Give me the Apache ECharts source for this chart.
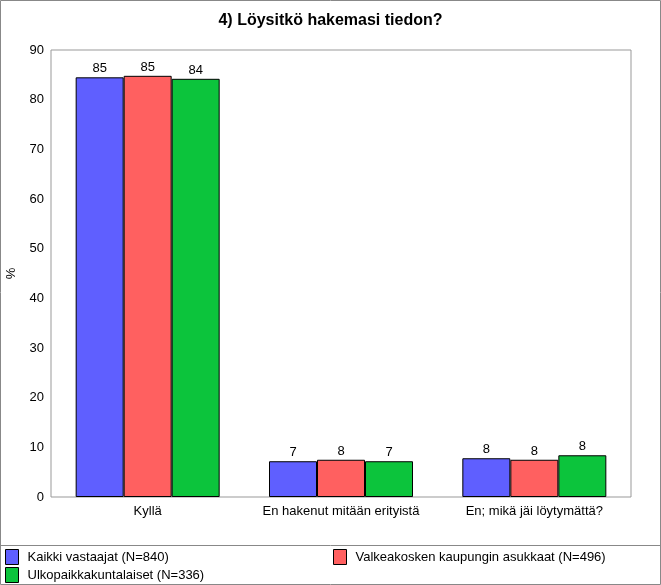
<!DOCTYPE html>
<html><head><meta charset="utf-8">
<script src="https://cdn.jsdelivr.net/npm/echarts@6/dist/echarts.min.js"></script>
<style>html,body{margin:0;padding:0;background:#fff}#c{width:661px;height:585px}</style>
</head><body><div id="c"></div>
<script>
var categories = ['Kyllä', 'En hakenut mitään erityistä', 'En; mikä jäi löytymättä?'];
var seriesNames = ['Kaikki vastaajat (N=840)', 'Valkeakosken kaupungin asukkaat (N=496)', 'Ulkopaikkakuntalaiset (N=336)'];
var allValues = [84.5, 7.2, 7.8];
var cityValues = [84.8, 7.5, 7.5];
var outsideValues = [84.2, 7.2, 8.4];
var colors = ['#5f5fff', '#ff6060', '#0cc43c'];
var yTicks = {min: 0, max: 90, interval: 10};

var font = 'Liberation Sans, Arial, sans-serif';
function mk(name, data, color) {
  return {
    name: name, type: 'bar', data: data, barWidth: 48, barGap: '0%',
    itemStyle: {color: color, borderColor: '#000', borderWidth: 1},
    label: {show: true, position: 'top', distance: 2, color: '#000', fontSize: 13, fontFamily: font,
      formatter: function (p) { return Math.round(p.value); }},
    emphasis: {disabled: true}
  };
}
var chart = echarts.init(document.getElementById('c'), null, {renderer: 'canvas'});
chart.setOption({
  animation: false,
  backgroundColor: '#fff',
  title: {text: '4) Löysitkö hakemasi tiedon?', left: 'center', top: 8,
    textStyle: {fontFamily: font, fontSize: 16, fontWeight: 'bold', color: '#000'}},
  grid: {left: 51, right: 30, top: 50, bottom: 88, show: true, borderColor: '#999', borderWidth: 1,
    backgroundColor: 'transparent', containLabel: false, outerBoundsMode: 'none'},
  xAxis: {type: 'category', data: categories,
    axisLine: {show: false}, axisTick: {show: false},
    axisLabel: {color: '#000', fontSize: 13, fontFamily: font, margin: 8, interval: 0, hideOverlap: false}},
  yAxis: {type: 'value', min: yTicks.min, max: yTicks.max, interval: yTicks.interval,
    name: '%', nameLocation: 'middle', nameGap: 33,
    nameTextStyle: {color: '#000', fontSize: 13, fontFamily: font},
    axisLine: {show: false}, axisTick: {show: false}, splitLine: {show: false},
    axisLabel: {color: '#000', fontSize: 13, fontFamily: font, margin: 7}},
  legend: [
    {data: [seriesNames[0], seriesNames[2]], orient: 'vertical', left: 5, top: 549, itemGap: 2,
      itemWidth: 13, itemHeight: 15, icon: 'rect', selectedMode: false,
      itemStyle: {borderColor: '#000', borderWidth: 1},
      textStyle: {color: '#000', fontSize: 13, fontFamily: font, padding: [0, 0, 0, 4]}, padding: 0},
    {data: [seriesNames[1]], orient: 'vertical', left: 333, top: 549,
      itemWidth: 13, itemHeight: 15, icon: 'rect', selectedMode: false,
      itemStyle: {borderColor: '#000', borderWidth: 1},
      textStyle: {color: '#000', fontSize: 13, fontFamily: font, padding: [0, 0, 0, 4]}, padding: 0}
  ],
  graphic: [
    {type: 'rect', shape: {x: 0.5, y: 0.5, width: 660, height: 584}, style: {fill: 'none', stroke: '#888', lineWidth: 1}, silent: true},
    {type: 'line', shape: {x1: 0, y1: 545.5, x2: 661, y2: 545.5}, style: {stroke: '#888', lineWidth: 1}, silent: true}
  ],
  series: [mk(seriesNames[0], allValues, colors[0]), mk(seriesNames[1], cityValues, colors[1]), mk(seriesNames[2], outsideValues, colors[2])]
});
</script></body></html>
